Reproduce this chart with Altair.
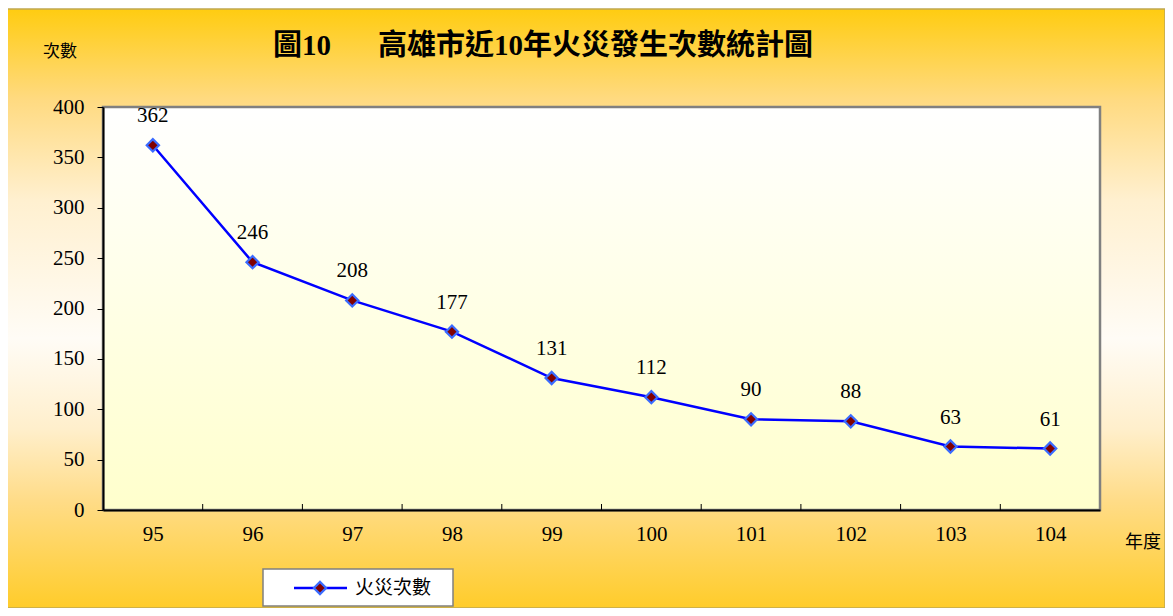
import altair as alt
import pandas as pd

# ---- data ----
years = [95, 96, 97, 98, 99, 100, 101, 102, 103, 104]
counts = [362, 246, 208, 177, 131, 112, 90, 88, 63, 61]
series_name = "火災次數"
title_prefix = "圖10"
title_main = "高雄市近10年火災發生次數統計圖"
y_title = "次數"
x_title = "年度"
y_ticks = [0, 50, 100, 150, 200, 250, 300, 350, 400]

W, H = 997, 403

df = pd.DataFrame({"year": years, "count": counts})
bounds = pd.DataFrame({"b": [y + 0.5 for y in years[:-1]]})
one = pd.DataFrame({"t": [0]})

serif = "Liberation Serif, Noto Sans CJK TC"

xscale = alt.Scale(domain=[years[0] - 0.5, years[-1] + 0.5], nice=False, zero=False)
yscale = alt.Scale(domain=[0, 400], nice=False)

xaxis = alt.Axis(values=years, ticks=False, domainColor="black", domainWidth=2,
                 labelFont=serif, labelFontSize=21, labelColor="black",
                 labelPadding=13, title=None, grid=False, zindex=1, format="d")
yaxis = alt.Axis(values=y_ticks, tickSize=6, tickColor="black", tickWidth=1,
                 domainColor="black", domainWidth=2, labelFont=serif,
                 labelFontSize=21, labelColor="black", labelPadding=13,
                 title=None, grid=False, zindex=1)

outer_grad = alt.Gradient(
    gradient="linear", x1=0, x2=0, y1=0, y2=1,
    stops=[
        alt.GradientStop(offset=0.0, color="#FFCC11"),
        alt.GradientStop(offset=0.15, color="#FFDA80"),
        alt.GradientStop(offset=0.32, color="#FFF0D0"),
        alt.GradientStop(offset=0.55, color="#FFFCF6"),
        alt.GradientStop(offset=0.70, color="#FFEFCC"),
        alt.GradientStop(offset=0.82, color="#FFDC88"),
        alt.GradientStop(offset=1.0, color="#FFCC2A"),
    ],
)
plot_grad = alt.Gradient(
    gradient="linear", x1=0, x2=0, y1=0, y2=1,
    stops=[
        alt.GradientStop(offset=0.0, color="#FFFFFF"),
        alt.GradientStop(offset=1.0, color="#FFFFCC"),
    ],
)

outer = alt.Chart(one).mark_rect(fill=outer_grad, stroke="#C0A850", strokeWidth=1.5).encode(
    x=alt.value(-96), x2=alt.value(W + 65), y=alt.value(-98), y2=alt.value(H + 98))

plotbg = alt.Chart(one).mark_rect(fill=plot_grad, stroke="#808080", strokeWidth=2.5).encode(
    x=alt.value(0), x2=alt.value(W), y=alt.value(0), y2=alt.value(H))

ticks = alt.Chart(bounds).mark_rule(color="black", strokeWidth=1).encode(
    x=alt.X("b:Q", scale=xscale, axis=xaxis), y=alt.value(H), y2=alt.value(H - 6))

line = alt.Chart(df).mark_line(color="#0000FF", strokeWidth=2.5).encode(
    x=alt.X("year:Q", scale=xscale, axis=xaxis),
    y=alt.Y("count:Q", scale=yscale, axis=yaxis))

points = alt.Chart(df).mark_point(shape="diamond", filled=True, fill="#800000",
                                  stroke="#3A6BFF", strokeWidth=2.2, size=150, opacity=1).encode(
    x=alt.X("year:Q", scale=xscale, axis=xaxis),
    y=alt.Y("count:Q", scale=yscale, axis=yaxis))

labels = alt.Chart(df).mark_text(font=serif, fontSize=21, dy=-23, baseline="alphabetic",
                                 align="center", color="black").encode(
    x=alt.X("year:Q", scale=xscale, axis=xaxis),
    y=alt.Y("count:Q", scale=yscale, axis=yaxis),
    text="count:Q")

def txt(s, x, y, size, align="left", weight="normal"):
    return alt.Chart(pd.DataFrame({"s": [s]})).mark_text(
        font=serif, fontSize=size, align=align, baseline="middle",
        fontWeight=weight, color="black").encode(
        text="s:N", x=alt.value(x), y=alt.value(y))

t1 = txt(title_prefix, 170, -61, 29, weight="bold")
t2 = txt(title_main, 275, -61, 29, weight="bold")
t3 = txt(y_title, -43, -55, 17, align="center")
t4 = txt(x_title, 1040, 436, 18, align="center")

leg_box = alt.Chart(one).mark_rect(fill="white", stroke="#808080", strokeWidth=1.5).encode(
    x=alt.value(160), x2=alt.value(350), y=alt.value(462), y2=alt.value(499))
leg_line = alt.Chart(one).mark_rule(color="#0000FF", strokeWidth=2.5).encode(
    x=alt.value(191), x2=alt.value(244), y=alt.value(481))
leg_pt = alt.Chart(one).mark_point(shape="diamond", filled=True, fill="#800000",
                                   stroke="#3A6BFF", strokeWidth=2.2, size=150, opacity=1).encode(
    x=alt.value(217), y=alt.value(481))
leg_txt = txt(series_name, 252, 481, 19)

chart = alt.layer(
    outer, plotbg, ticks, line, points, labels, t1, t2, t3, t4,
    leg_box, leg_line, leg_pt, leg_txt
).properties(
    width=W, height=H,
    padding={"left": 95, "top": 99, "right": 65, "bottom": 98},
    autosize=alt.AutoSizeParams(type="none"),
).configure_view(stroke="transparent").configure(background="white")

chart.save("out.html", embed_options={"renderer": "svg", "actions": False})
